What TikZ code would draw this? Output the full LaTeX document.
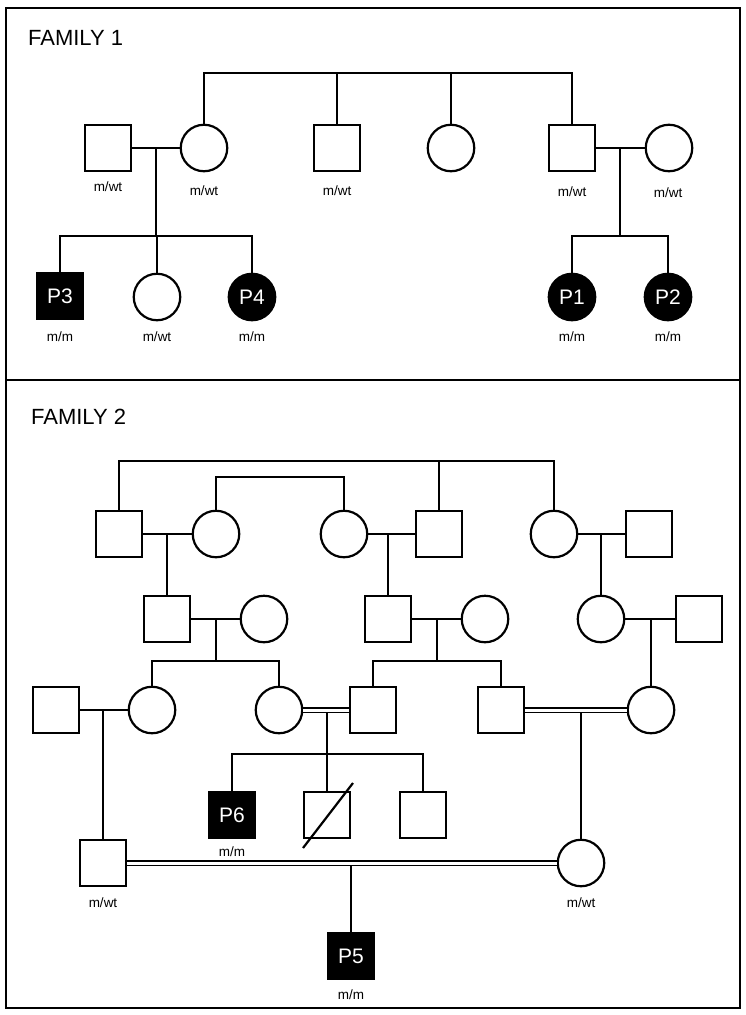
\documentclass[tikz,border=0pt]{standalone}
\usepackage{fontspec}
\setmainfont{Liberation Sans}
\usetikzlibrary{calc}
\tikzstyle{male} = [draw, rectangle, minimum size=46.5pt, inner sep=0pt]
\tikzstyle{female} = [draw, circle, minimum size=46.5pt, inner sep=0pt]
\tikzstyle{aff} = [fill=black, text=white, font=\fontsize{21}{25}\selectfont]
\tikzstyle{geno} = [font=\fontsize{13.5}{16}\selectfont, inner sep=0pt]
\tikzstyle{title} = [font=\fontsize{22}{26}\selectfont, anchor=west, inner sep=0pt]
\tikzstyle{cons} = [line width=1.6pt, double distance=3pt]

\begin{document}
\begin{tikzpicture}[x=1pt, y=-1pt, line width=2.2pt]
        \useasboundingbox (0,0) rectangle (746,1015);
        % Frames
        \draw (6,8) rectangle (740,1008);
        \draw (6,380) -- (740,380);
        \node[title] (fam1) at (27,38) {FAMILY 1};
        \node[title] (fam2) at (30,417) {FAMILY 2};

        % Family 1 node positions
        \node[male] (sq1) at (108,148) {};
        \node[female] (c1) at (204,148) {};
        \node[male] (sq2) at (337,148) {};
        \node[female] (c2) at (451,148) {};
        \node[male] (sq3) at (572,148) {};
        \node[female] (c3) at (669,148) {};
        \node[male, aff] (p3) at (60,296) {P3};
        \node[female] (c4) at (157,297) {};
        \node[female, aff] (p4) at (252,297) {P4};
        \node[female, aff] (p1) at (572,297) {P1};
        \node[female, aff] (p2) at (668,297) {P2};

        \coordinate (sib1) at (0,73);
        \coordinate (k1) at (156,236);
        \coordinate (k2) at (620,236);

        \draw (c1.north) |- (sib1 -| sq3) -- (sq3.north);
        \draw (sq2.north) -- (sq2.north |- sib1);
        \draw (c2.north) -- (c2.north |- sib1);
        \draw (sq1) -- (c1);
        \draw (k1 |- sq1) -- (k1);
        \draw (p3.north) |- (k1) -| (p4.north);
        \draw (c4.north) -- (c4.north |- k1);
        \draw (sq3) -- (c3);
        \draw (k2 |- sq3) -- (k2);
        \draw (p1.north) |- (k2) -| (p2.north);

        % Family 1 genotypes
        \node[geno] (g1) at (108,187) {m/wt};
        \node[geno] (g2) at (204,191) {m/wt};
        \node[geno] (g3) at (337,191) {m/wt};
        \node[geno] (g4) at (572,192) {m/wt};
        \node[geno] (g5) at (668,193) {m/wt};
        \node[geno] (g6) at (60,337) {m/m};
        \node[geno] (g7) at (157,337) {m/wt};
        \node[geno] (g8) at (252,337) {m/m};
        \node[geno] (g9) at (572,337) {m/m};
        \node[geno] (g10) at (668,337) {m/m};

        % Family 2 node positions
        \node[male] (a1) at (119,534) {};
        \node[female] (a2) at (216,534) {};
        \node[female] (a3) at (344,534) {};
        \node[male] (a4) at (439,534) {};
        \node[female] (a5) at (554,534) {};
        \node[male] (a6) at (649,534) {};

        \node[male] (b1) at (167,619) {};
        \node[female] (b2) at (264,619) {};
        \node[male] (b3) at (388,619) {};
        \node[female] (b4) at (485,619) {};
        \node[female] (b5) at (601,619) {};
        \node[male] (b6) at (699,619) {};

        \node[male] (d1) at (56,710) {};
        \node[female] (d2) at (152,710) {};
        \node[female] (d3) at (279,710) {};
        \node[male] (d4) at (373,710) {};
        \node[male] (d5) at (501,710) {};
        \node[female] (d6) at (651,710) {};

        \node[male, aff] (p6) at (232,815) {P6};
        \node[male] (x2) at (327,815) {};
        \node[male] (x3) at (423,815) {};

        \node[male] (e1) at (103,863) {};
        \node[female] (e2) at (581,863) {};
        \node[male, aff] (p5) at (351,956) {P5};

        \coordinate (top2) at (0,461);
        \coordinate (top3) at (0,477);
        \coordinate (k3) at (216,661);
        \coordinate (k4) at (437,661);
        \coordinate (k5) at (327,754);

        \draw (a1.north) |- (top2 -| a5) -- (a5.north);
        \draw (a4.north) -- (a4.north |- top2);
        \draw (a2.north) |- (top3 -| a3) -- (a3.north);
        \draw (a1) -- (a2);
        \draw (a3) -- (a4);
        \draw (a5) -- (a6);
        \draw (b1.north) -- (b1.north |- a1);
        \draw (b3.north) -- (b3.north |- a3);
        \draw (b5.north) -- (b5.north |- a5);

        \draw (b1) -- (b2);
        \draw (b3) -- (b4);
        \draw (b5) -- (b6);
        \draw (k3 |- b1) -- (k3);
        \draw (d2.north) |- (k3) -| (d3.north);
        \draw (k4 |- b3) -- (k4);
        \draw (d4.north) |- (k4) -| (d5.north);
        \draw (d6.north) -- (d6.north |- b5);

        \draw (d1) -- (d2);
        \draw (e1.north) -- (e1.north |- d1);
        \draw[cons] (d3) -- (d4);
        \draw ($(k5 |- d3)+(0,2.5)$) -- (k5);
        \draw (p6.north) |- (k5) -| (x3.north);
        \draw (x2.north) -- (x2.north |- k5);
        \draw[cons] (d5) -- (d6);
        \draw (e2.north) -- ($(e2.north |- d6)+(0,2.5)$);
        \draw ($(x2)+(-24,33)$) -- ($(x2)+(26,-32)$);

        \draw[cons] (e1) -- (e2);
        \draw (p5.north) -- ($(p5.north |- e1)+(0,2.5)$);

        % Family 2 genotypes
        \node[geno] (g11) at (232,852) {m/m};
        \node[geno] (g12) at (103,903) {m/wt};
        \node[geno] (g13) at (581,903) {m/wt};
        \node[geno] (g14) at (351,995) {m/m};

      \end{tikzpicture}
\end{document}
